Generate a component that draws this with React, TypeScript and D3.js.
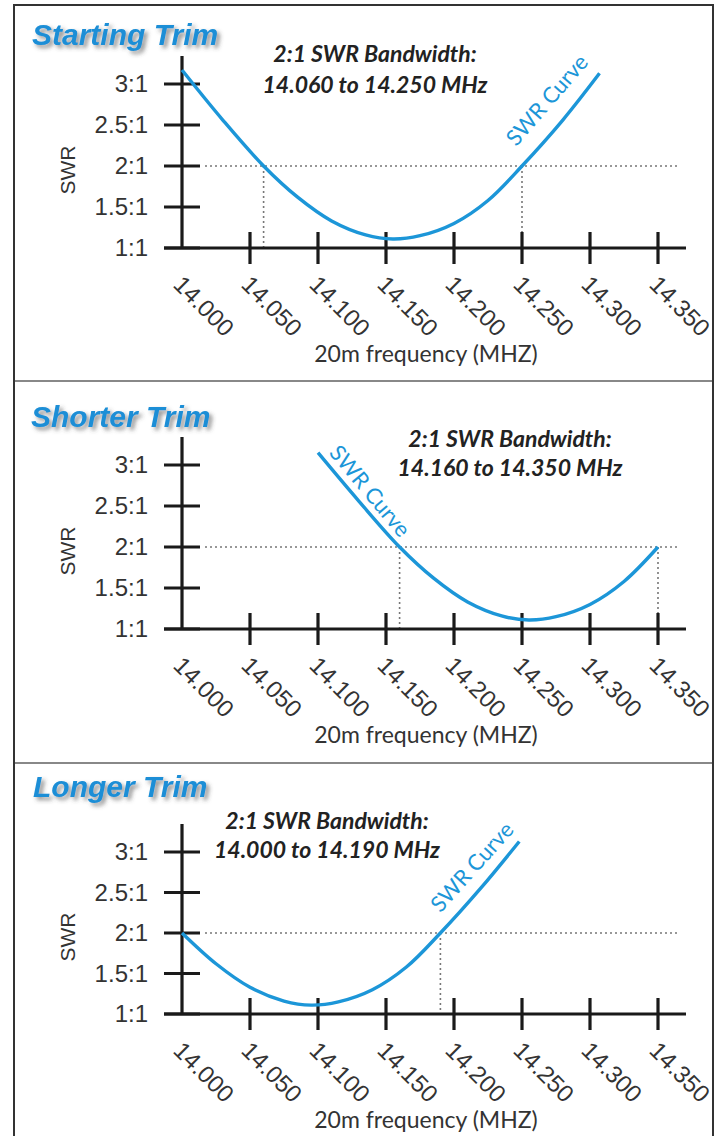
import React, { useEffect, useRef } from "react";
import * as d3 from "d3";

// axis ticks
const freqTicks = [14.0, 14.05, 14.1, 14.15, 14.2, 14.25, 14.3, 14.35];
const freqTickLabels = ["14.000", "14.050", "14.100", "14.150", "14.200", "14.250", "14.300", "14.350"];
const swrTicks = [1, 1.5, 2, 2.5, 3];
const swrTickLabels = ["1:1", "1.5:1", "2:1", "2.5:1", "3:1"];

const panelTitles = ["Starting Trim", "Shorter Trim", "Longer Trim"];
const bandLow = [14.06, 14.16, 14.0];
const bandHigh = [14.25, 14.35, 14.19];

// SWR curves
const startingFreq = [14.0, 14.03, 14.06, 14.085, 14.11, 14.135, 14.155, 14.175, 14.2, 14.225, 14.25, 14.28, 14.307];
const startingSwr = [3.17, 2.56, 2.0, 1.62, 1.33, 1.16, 1.11, 1.15, 1.3, 1.58, 2.0, 2.56, 3.13];

const shorterFreq = [14.1, 14.13, 14.16, 14.185, 14.21, 14.235, 14.255, 14.275, 14.3, 14.325, 14.35];
const shorterSwr = [3.15, 2.56, 2.0, 1.62, 1.33, 1.16, 1.11, 1.15, 1.3, 1.58, 2.0];

const longerFreq = [14.0, 14.025, 14.05, 14.075, 14.095, 14.115, 14.14, 14.165, 14.19, 14.22, 14.248];
const longerSwr = [2.0, 1.62, 1.33, 1.16, 1.11, 1.15, 1.3, 1.58, 2.0, 2.56, 3.13];

const curveFreqs = [startingFreq, shorterFreq, longerFreq];
const curveSwrs = [startingSwr, shorterSwr, longerSwr];

// layout of each panel (pixels)
const layout = [
  { top: 5, y1: 248, y3: 84, titleX: 32, titleY: 45, noteX: 375, noteY: [62, 93], lab: [547, 100, -49] },
  { top: 381, y1: 629, y3: 465, titleX: 31, titleY: 427, noteX: 510, noteY: [447, 476], lab: [370, 491, 50] },
  { top: 763, y1: 1014, y3: 852, titleX: 33, titleY: 797, noteX: 327, noteY: [829, 858], lab: [472, 867, -48] },
];

const W = 715, H = 1136;
const BLUE = "#1c96d8";
const tickFont = "'Liberation Sans', Arial, sans-serif";
const noteFont = "Lato, 'Open Sans', sans-serif";

export default function App() {
  const svgRef = useRef<SVGSVGElement>(null);

  useEffect(() => {
    document.body.style.margin = "0";
    const svg = d3.select(svgRef.current);
    svg.selectAll("*").remove();

    const defs = svg.append("defs");
    const f = defs.append("filter").attr("id", "shadow")
      .attr("x", "-10%").attr("y", "-30%").attr("width", "130%").attr("height", "180%");
    f.append("feDropShadow").attr("dx", 3).attr("dy", 3).attr("stdDeviation", 2)
      .attr("flood-color", "#444").attr("flood-opacity", 0.6);

    svg.append("rect").attr("width", W).attr("height", H).attr("fill", "#fff");

    const x = d3.scaleLinear().domain([14.0, 14.35]).range([182, 658]);

    layout.forEach((L, i) => {
      const y = d3.scaleLinear().domain([1, 3]).range([L.y1, L.y3]);
      const g = svg.append("g");

      // title
      g.append("text")
        .attr("x", L.titleX).attr("y", L.titleY)
        .attr("font-family", tickFont).attr("font-weight", "bold").attr("font-style", "italic")
        .attr("font-size", 30).attr("fill", "#1b8ed6").attr("filter", "url(#shadow)")
        .text(panelTitles[i]);

      // bandwidth note
      const note = g.append("text")
        .attr("text-anchor", "middle")
        .attr("font-family", noteFont).attr("font-weight", "bold").attr("font-style", "italic")
        .attr("font-size", 23).attr("fill", "#222");
      note.append("tspan").attr("x", L.noteX).attr("y", L.noteY[0]).text("2:1 SWR Bandwidth:");
      note.append("tspan").attr("x", L.noteX).attr("y", L.noteY[1])
        .text(`${bandLow[i].toFixed(3)} to ${bandHigh[i].toFixed(3)} MHz`);

      // dotted guides
      const dots = g.append("g").attr("stroke", "#777").attr("stroke-width", 1.6)
        .attr("stroke-dasharray", "2,3").attr("fill", "none");
      dots.append("line").attr("x1", 205).attr("x2", 680).attr("y1", y(2)).attr("y2", y(2));
      [bandLow[i], bandHigh[i]].forEach(b => {
        dots.append("line").attr("x1", x(b)).attr("x2", x(b)).attr("y1", y(2)).attr("y2", y(1));
      });

      // axes
      const ax = g.append("g").attr("stroke", "#1a1a1a").attr("stroke-width", 3.2);
      ax.append("line").attr("x1", x(14)).attr("x2", x(14)).attr("y1", y(3) - 28).attr("y2", y(1));
      ax.append("line").attr("x1", x(14) - 18).attr("x2", 686).attr("y1", y(1)).attr("y2", y(1));
      ax.selectAll(".yt").data(swrTicks).join("line")
        .attr("x1", x(14) - 18).attr("x2", x(14) + 18)
        .attr("y1", d => y(d)).attr("y2", d => y(d));
      ax.selectAll(".xt").data(freqTicks.slice(1)).join("line")
        .attr("x1", d => x(d)).attr("x2", d => x(d))
        .attr("y1", y(1) - 16).attr("y2", y(1) + 16);

      // y tick labels
      g.selectAll(".ylab").data(swrTicks).join("text")
        .attr("x", 148).attr("y", d => y(d)).attr("dy", "0.35em")
        .attr("text-anchor", "end").attr("font-family", tickFont).attr("font-size", 24)
        .attr("fill", "#333").text((d, k) => swrTickLabels[k]);

      // x tick labels
      g.selectAll(".xlab").data(freqTicks).join("text")
        .attr("transform", d => `translate(${x(d) - 10},${y(1) + 38}) rotate(45)`)
        .attr("font-family", tickFont).attr("font-size", 24)
        .attr("fill", "#333").text((d, k) => freqTickLabels[k]);

      // axis titles
      g.append("text")
        .attr("transform", `translate(${75},${y(2) + 4}) rotate(-90)`)
        .attr("text-anchor", "middle").attr("font-family", tickFont).attr("font-size", 21)
        .attr("fill", "#333").text("SWR");
      g.append("text")
        .attr("x", 426).attr("y", y(1) + 114)
        .attr("text-anchor", "middle").attr("font-family", noteFont).attr("font-size", 23)
        .attr("fill", "#333").text("20m frequency (MHZ)");

      // curve
      const pts: [number, number][] = curveFreqs[i].map((fq, k) => [fq, curveSwrs[i][k]]);
      const line = d3.line<[number, number]>()
        .x(d => x(d[0])).y(d => y(d[1]))
        .curve(d3.curveCatmullRom.alpha(0.5));
      g.append("path").attr("d", line(pts))
        .attr("fill", "none").attr("stroke", BLUE).attr("stroke-width", 3.4);

      g.append("text")
        .attr("transform", `translate(${L.lab[0]},${L.lab[1]}) rotate(${L.lab[2]})`)
        .attr("text-anchor", "middle").attr("dy", "0.35em")
        .attr("font-family", noteFont).attr("font-size", 22).attr("fill", BLUE)
        .text("SWR Curve");

      // panel separator
      if (i > 0) {
        g.append("line").attr("x1", 14).attr("x2", 713).attr("y1", L.top).attr("y2", L.top)
          .attr("stroke", "#888").attr("stroke-width", 2);
      }
    });

    svg.append("rect").attr("x", 14).attr("y", 5).attr("width", 699).attr("height", H - 4)
      .attr("fill", "none").attr("stroke", "#333").attr("stroke-width", 2);
  }, []);

  return <svg ref={svgRef} width={W} height={H} style={{ display: "block" }} />;
}
